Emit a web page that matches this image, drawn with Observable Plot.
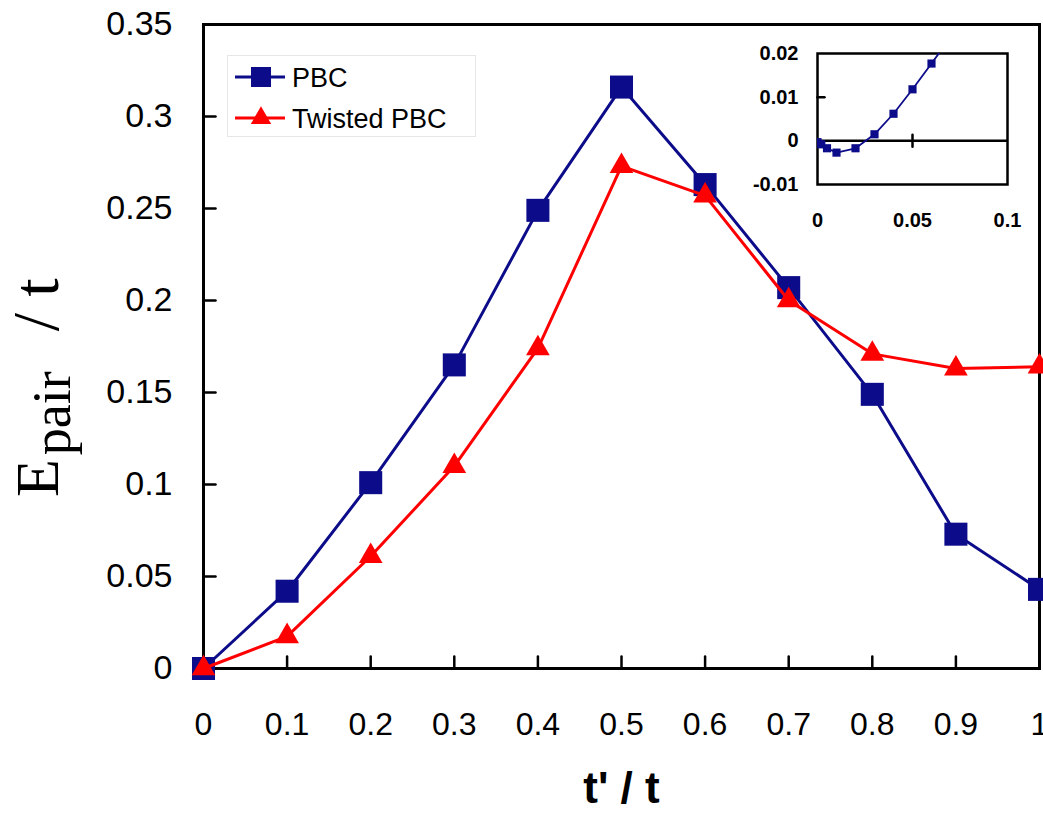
<!DOCTYPE html>
<html>
<head>
<meta charset="utf-8">
<script src="https://cdn.jsdelivr.net/npm/d3@7"></script>
<script src="https://cdn.jsdelivr.net/npm/@observablehq/plot@0.6"></script>
<style>
  html, body { margin: 0; padding: 0; background: #fff; overflow: hidden; }
  #wrap { position: relative; width: 1043px; height: 815px; overflow: hidden; }
  #main { position: absolute; left: 0; top: 0; }
  #inset { position: absolute; left: 740px; top: 40px; }
  #legend { position: absolute; left: 227px; top: 55px; }
  svg { overflow: hidden; }
</style>
</head>
<body>
<div id="wrap">
  <div id="main"></div>
  <div id="inset"></div>
  <div id="legend"></div>
</div>
<script>
// ---- data ----
const tPrime = [0, 0.1, 0.2, 0.3, 0.4, 0.5, 0.6, 0.7, 0.8, 0.9, 1];
const pbc = [0, 0.042, 0.101, 0.165, 0.249, 0.316, 0.263, 0.207, 0.149, 0.073, 0.043];
const twisted = [0, 0.0175, 0.061, 0.110, 0.174, 0.273, 0.257, 0.200, 0.171, 0.163, 0.164];
const seriesNames = ["PBC", "Twisted PBC"];

const insetT = [0, 0.002, 0.005, 0.01, 0.02, 0.03, 0.04, 0.05, 0.06, 0.07];
const insetPbc = [-0.0003, -0.0008, -0.0017, -0.0027, -0.0017, 0.0015, 0.0062, 0.0118, 0.0177, 0.0237];

const xTicks = [0, 0.1, 0.2, 0.3, 0.4, 0.5, 0.6, 0.7, 0.8, 0.9, 1];
const yTicks = [0, 0.05, 0.1, 0.15, 0.2, 0.25, 0.3, 0.35];
const insetXTicks = [0, 0.05, 0.1];
const insetYTicks = [-0.01, 0, 0.01, 0.02];

const xTitle = "t' / t";

// ---- styles ----
const NAVY = "#0c0c8a";
const RED = "#ff0000";
const SANS = "'Liberation Sans', Arial, Helvetica, sans-serif";
const SERIF = "'Liberation Serif', 'Times New Roman', serif";

const pbcData = tPrime.map((x, i) => ({x, y: pbc[i]}));
const twData = tPrime.map((x, i) => ({x, y: twisted[i]}));
const insetData = insetT.map((x, i) => ({x, y: insetPbc[i]}));

const tickShape = {draw(ctx, l) { ctx.moveTo(0, 0); ctx.lineTo(0, -l); }};

const main = Plot.plot({
  width: 1043, height: 815,
  marginLeft: 203, marginRight: 4, marginTop: 24, marginBottom: 147,
  x: {domain: [0, 1], label: null},
  y: {domain: [0, 0.35], label: null},
  style: {fontFamily: SANS, background: "transparent", color: "#000"},
  marks: [
    Plot.axisY(yTicks, {tickSize: 0, tickPadding: 31, fontSize: 34, tickFormat: d => String(d), label: null}),
    Plot.axisX(xTicks, {tickSize: 0, tickPadding: 44, fontSize: 32, tickFormat: d => String(d), label: null}),
    Plot.vector(xTicks, {x: d => d, y: d => 0, length: 12, rotate: 0, anchor: "start", shape: tickShape, stroke: "#000", strokeWidth: 2.5}),
    Plot.vector(yTicks, {x: d => 0, y: d => d, length: 12, rotate: 90, anchor: "start", shape: tickShape, stroke: "#000", strokeWidth: 2.5}),
    Plot.frame({stroke: "#000", strokeWidth: 3}),
    Plot.line(pbcData, {x: "x", y: "y", stroke: NAVY, strokeWidth: 3}),
    Plot.dot(pbcData, {x: "x", y: "y", symbol: "square", r: 13, fill: NAVY, stroke: "none"}),
    Plot.line(twData, {x: "x", y: "y", stroke: RED, strokeWidth: 3}),
    Plot.dot(twData, {x: "x", y: "y", symbol: "triangle", r: 8.8, fill: RED, stroke: "none"}),
    Plot.text([xTitle], {text: d => d, frameAnchor: "bottom", dy: 120, fontSize: 44, fontWeight: "bold", lineAnchor: "middle", fill: "#000"})
  ]
});
document.getElementById("main").appendChild(main);

// y-axis title with subscript
const yt = d3.select(main).append("text")
  .attr("transform", "translate(58,497) rotate(-90)")
  .attr("font-family", SERIF)
  .attr("font-size", 62)
  .attr("fill", "#000")
  .attr("text-anchor", "start");
yt.append("tspan").text("E");
yt.append("tspan").attr("font-size", 54).attr("dx", 4).attr("dy", 12).text("pair");
yt.append("tspan").attr("font-size", 66).attr("dx", 40).attr("dy", -12).text("/");
yt.append("tspan").attr("font-size", 66).attr("dx", 16).text("t");

// inset
const inset = Plot.plot({
  width: 290, height: 200,
  marginLeft: 77, marginRight: 23, marginTop: 13, marginBottom: 56,
  x: {domain: [0, 0.1], label: null},
  y: {domain: [-0.01, 0.02], label: null},
  style: {fontFamily: SANS, background: "transparent", color: "#000"},
  marks: [
    Plot.axisY(insetYTicks, {tickSize: 0, tickPadding: 19, fontSize: 20, fontWeight: "bold", tickFormat: d => String(d), label: null}),
    Plot.axisX(insetXTicks, {tickSize: 0, tickPadding: 28, fontSize: 20, fontWeight: "bold", tickFormat: d => String(d), label: null}),
    Plot.ruleY([0], {stroke: "#000", strokeWidth: 2.5}),
    Plot.vector([0.05], {x: d => d, y: d => 0, length: 12, rotate: 0, anchor: "middle", shape: tickShape, stroke: "#000", strokeWidth: 2.5}),
    Plot.vector([0.01], {x: d => 0, y: d => d, length: 7, rotate: 90, anchor: "start", shape: tickShape, stroke: "#000", strokeWidth: 2.5}),
    Plot.frame({stroke: "#000", strokeWidth: 2.5}),
    Plot.line(insetData, {x: "x", y: "y", stroke: NAVY, strokeWidth: 1.8, clip: true}),
    Plot.dot(insetData, {x: "x", y: "y", symbol: "square", r: 4.6, fill: NAVY, stroke: "none", clip: true})
  ]
});
document.getElementById("inset").appendChild(inset);

// legend
const lg = d3.select("#legend").append("svg").attr("width", 250).attr("height", 83);
lg.append("rect").attr("x", 0.5).attr("y", 0.5).attr("width", 248).attr("height", 81)
  .attr("fill", "#fff").attr("stroke", "#e6e6e6");
const items = [
  {name: seriesNames[0], color: NAVY, sym: d3.symbolSquare, size: 400, cy: 22},
  {name: seriesNames[1], color: RED, sym: d3.symbolTriangle, size: 180, cy: 63}
];
items.forEach(it => {
  lg.append("line").attr("x1", 8).attr("x2", 58).attr("y1", it.cy).attr("y2", it.cy)
    .attr("stroke", it.color).attr("stroke-width", 3);
  lg.append("path").attr("d", d3.symbol(it.sym, it.size)())
    .attr("transform", `translate(34,${it.cy})`).attr("fill", it.color);
  lg.append("text").attr("x", 65).attr("y", it.cy).attr("dy", "0.36em")
    .attr("font-family", SANS).attr("font-size", 27).attr("fill", "#000").text(it.name);
});
</script>
</body>
</html>
